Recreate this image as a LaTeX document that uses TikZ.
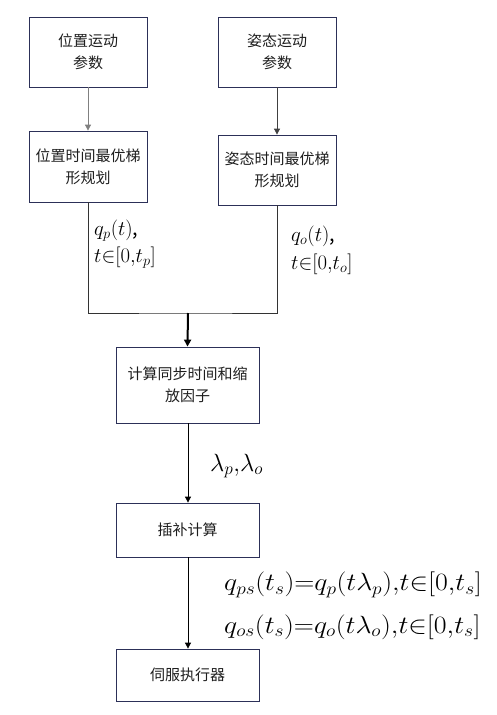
\documentclass[tikz,border=0pt]{standalone}
\usepackage{fontspec}
\setmainfont{Noto Sans CJK SC}
\usetikzlibrary{arrows.meta}
\definecolor{boxc}{RGB}{44,48,88}
\definecolor{txtc}{RGB}{30,30,30}
\tikzset{
  box/.style={draw=boxc, line width=0.8pt, minimum width=118pt, align=center, font=\fontsize{15}{22}\selectfont, text=txtc, inner sep=0pt},
  wbox/.style={box, minimum width=143pt},
  conn/.style={line width=0.8pt, -{Triangle[length=6pt,width=6pt]}},
  lbl/.style={anchor=west, inner sep=0pt, align=left},
}
\begin{document}
\begin{tikzpicture}[x=1pt,y=-1pt]
\useasboundingbox (0,0) rectangle (497,715);
\node[box, minimum height=70pt] (A) at (88,52) {位置运动\\参数};
\node[box, minimum height=70pt] (B) at (277,52) {姿态运动\\参数};
\node[box, minimum height=71pt] (C) at (88,166.5) {位置时间最优梯\\形规划};
\node[box, minimum height=70pt] (D) at (277,170) {姿态时间最优梯\\形规划};
\node[wbox, minimum height=76pt] (E) at (187.5,385) {计算同步时间和缩\\放因子};
\node[wbox, minimum height=54pt] (F) at (187.5,530) {插补计算};
\node[wbox, minimum height=52pt] (G) at (187.5,675) {伺服执行器};
\coordinate (j) at (188,313);
\draw[conn, draw=gray] (A) -- (C);
\draw[conn, draw=black!75] (B) -- (D);
\draw[line width=0.8pt, black!80] (C.south) |- (j) -| (D.south);
\draw[line width=2pt, -{Triangle[length=7pt,width=7pt]}] (j) -- (E.north);
\draw[conn] (E.south -| j) -- (F.north -| j);
\draw[conn] (F.south -| j) -- (G.north -| j);
\node[lbl, font=\fontsize{20}{24}\selectfont] (l1) at (94,231) {$q_p(t)$,};
\node[lbl, font=\fontsize{20}{24}\selectfont] (l2) at (94,258) {$t{\in}[0{,}t_p]$};
\node[lbl, font=\fontsize{20}{24}\selectfont] (l3) at (291,236) {$q_o(t)$,};
\node[lbl, font=\fontsize{20}{24}\selectfont] (l4) at (291,264) {$t{\in}[0{,}t_o]$};
\node[lbl, font=\fontsize{23}{26}\selectfont] (l5) at (210,466) {$\lambda_p{,}\lambda_o$};
\node[lbl, font=\fontsize{25}{28}\selectfont] (l6) at (224,585) {\scalebox{1.12}[1]{$q_{ps}(t_s){=}q_p(t\lambda_p){,}t{\in}[0{,}t_s]$}};
\node[lbl, font=\fontsize{25}{28}\selectfont] (l7) at (224,627) {\scalebox{1.12}[1]{$q_{os}(t_s){=}q_o(t\lambda_o){,}t{\in}[0{,}t_s]$}};
\end{tikzpicture}
\end{document}
